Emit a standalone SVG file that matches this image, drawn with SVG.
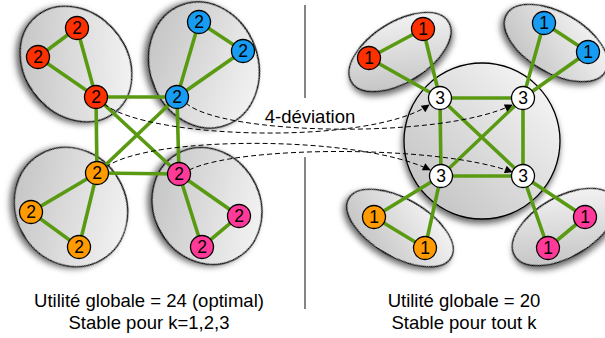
<svg xmlns="http://www.w3.org/2000/svg" width="605" height="338" viewBox="0 0 605 338">
<defs>
<linearGradient id="gfill" x1="0" y1="1" x2="1" y2="0">
<stop offset="0" stop-color="#bdbdbd"/>
<stop offset="1" stop-color="#fbfbfb"/>
</linearGradient>
<filter id="shadow" x="-30%" y="-30%" width="160%" height="160%">
<feDropShadow dx="-1" dy="4" stdDeviation="3" flood-color="#000" flood-opacity="0.6"/>
</filter>
<marker id="arrow" viewBox="0 0 10 10" refX="9" refY="5" markerWidth="10" markerHeight="8" markerUnits="userSpaceOnUse" orient="auto">
<path d="M0,0 L10,5 L0,10 Z" fill="#000"/>
</marker>
<style>
.cl{fill:url(#gfill);stroke:#000;stroke-width:1.3;filter:url(#shadow)}
.e{stroke:#5a9a12;stroke-width:3.6;fill:none;stroke-linecap:round}
.d{stroke:#000;stroke-width:1;fill:none;stroke-dasharray:5,3;marker-end:url(#arrow)}
.n{stroke:#000;stroke-width:1.3}
.r{fill:#ff3000}.b{fill:#169cf2}.o{fill:#ff9a00}.p{fill:#ff3a98}.w{fill:#fff}
.t{font-family:"Liberation Sans",Arial,Helvetica,sans-serif;font-size:17.5px;fill:#000;text-anchor:middle}
.lab{font-family:"Liberation Sans",Arial,Helvetica,sans-serif;font-size:18.5px;fill:#000;text-anchor:middle}
.div{stroke:#333;stroke-width:1.2}
</style>
</defs>
<g id="clusters">
<ellipse id="cl-red-l" class="cl" cx="76" cy="64" rx="62" ry="51" transform="rotate(50 76 64)"/>
<ellipse id="cl-blue-l" class="cl" cx="204" cy="65" rx="64" ry="54" transform="rotate(70 204 65)"/>
<ellipse id="cl-orange-l" class="cl" cx="71" cy="207" rx="61" ry="55" transform="rotate(60 71 207)"/>
<ellipse id="cl-pink-l" class="cl" cx="207" cy="206" rx="60" ry="53" transform="rotate(60 207 206)"/>
<circle id="cl-center-r" class="cl" cx="482" cy="141" r="78"/>
<ellipse id="cl-red-r" class="cl" cx="400" cy="52" rx="57" ry="30" transform="rotate(-32 400 52)"/>
<ellipse id="cl-blue-r" class="cl" cx="556" cy="43" rx="57" ry="30" transform="rotate(30 556 43)"/>
<ellipse id="cl-orange-r" class="cl" cx="400" cy="228" rx="59" ry="29" transform="rotate(30 400 228)"/>
<ellipse id="cl-pink-r" class="cl" cx="564" cy="227" rx="57" ry="30" transform="rotate(-30 564 227)"/>
</g>
<g id="divider">
<line class="div" x1="305" y1="5" x2="305" y2="98"/>
<line class="div" x1="305" y1="157" x2="305" y2="309"/>
</g>
<g id="connectors">
<path class="e" d="M77,28 L38,57 L96,97 Z"/>
<path class="e" d="M199,22 L243,51 L177,97 Z"/>
<path class="e" d="M97,173 L31,212 L79,247 Z"/>
<path class="e" d="M179,174 L239,216 L202,247 Z"/>
<path class="e" d="M96,97 L177,97 L179,174 L97,173 Z M96,97 L179,174 M177,97 L97,173"/>
<path class="e" d="M423,29 L369,58 L440,98 Z"/>
<path class="e" d="M544,23 L588,52 L523,98 Z"/>
<path class="e" d="M374,217 L425,248 L441,176 Z"/>
<path class="e" d="M585,217 L548,248 L523,176 Z"/>
<path class="e" d="M440,98 L523,98 L523,176 L441,176 Z M440,98 L523,176 M523,98 L441,176"/>
<path class="d" d="M104,104 C150,140 370,145 429,105"/>
<path class="d" d="M186,103 C220,135 440,140 512,105"/>
<path class="d" d="M106,167 C150,135 360,135 430,170"/>
<path class="d" d="M189,170 C240,145 440,145 512,172"/>
</g>
<g id="n-r1"><circle class="n r" cx="77" cy="28" r="11.5"/><text class="t" x="77" y="34">2</text></g>
<g id="n-r2"><circle class="n r" cx="38" cy="57" r="11.5"/><text class="t" x="38" y="63">2</text></g>
<g id="n-r3"><circle class="n r" cx="96" cy="97" r="11.5"/><text class="t" x="96" y="103">2</text></g>
<g id="n-b1"><circle class="n b" cx="199" cy="22" r="11.5"/><text class="t" x="199" y="28">2</text></g>
<g id="n-b2"><circle class="n b" cx="243" cy="51" r="11.5"/><text class="t" x="243" y="57">2</text></g>
<g id="n-b3"><circle class="n b" cx="177" cy="97" r="11.5"/><text class="t" x="177" y="103">2</text></g>
<g id="n-o1"><circle class="n o" cx="97" cy="173" r="11.5"/><text class="t" x="97" y="179">2</text></g>
<g id="n-o2"><circle class="n o" cx="31" cy="212" r="11.5"/><text class="t" x="31" y="218">2</text></g>
<g id="n-o3"><circle class="n o" cx="79" cy="247" r="11.5"/><text class="t" x="79" y="253">2</text></g>
<g id="n-p1"><circle class="n p" cx="179" cy="174" r="11.5"/><text class="t" x="179" y="180">2</text></g>
<g id="n-p2"><circle class="n p" cx="239" cy="216" r="11.5"/><text class="t" x="239" y="222">2</text></g>
<g id="n-p3"><circle class="n p" cx="202" cy="247" r="11.5"/><text class="t" x="202" y="253">2</text></g>
<g id="m-r1"><circle class="n r" cx="423" cy="29" r="11.5"/><text class="t" x="423" y="35">1</text></g>
<g id="m-r2"><circle class="n r" cx="369" cy="58" r="11.5"/><text class="t" x="369" y="64">1</text></g>
<g id="m-b1"><circle class="n b" cx="544" cy="23" r="11.5"/><text class="t" x="544" y="29">1</text></g>
<g id="m-b2"><circle class="n b" cx="588" cy="52" r="11.5"/><text class="t" x="588" y="58">1</text></g>
<g id="m-o1"><circle class="n o" cx="374" cy="217" r="11.5"/><text class="t" x="374" y="223">1</text></g>
<g id="m-o2"><circle class="n o" cx="425" cy="248" r="11.5"/><text class="t" x="425" y="254">1</text></g>
<g id="m-p1"><circle class="n p" cx="585" cy="217" r="11.5"/><text class="t" x="585" y="223">1</text></g>
<g id="m-p2"><circle class="n p" cx="548" cy="248" r="11.5"/><text class="t" x="548" y="254">1</text></g>
<g id="m-w1"><circle class="n w" cx="440" cy="98" r="11.5"/><text class="t" x="440" y="104">3</text></g>
<g id="m-w2"><circle class="n w" cx="523" cy="98" r="11.5"/><text class="t" x="523" y="104">3</text></g>
<g id="m-w3"><circle class="n w" cx="441" cy="176" r="11.5"/><text class="t" x="441" y="182">3</text></g>
<g id="m-w4"><circle class="n w" cx="523" cy="176" r="11.5"/><text class="t" x="523" y="182">3</text></g>
<g id="labels">
<text class="lab" x="310" y="123">4-déviation</text>
<text class="lab" x="149" y="307">Utilité globale = 24 (optimal)</text>
<text class="lab" x="149" y="329">Stable pour k=1,2,3</text>
<text class="lab" x="464" y="307">Utilité globale = 20</text>
<text class="lab" x="464" y="329">Stable pour tout k</text>
</g>
</svg>
